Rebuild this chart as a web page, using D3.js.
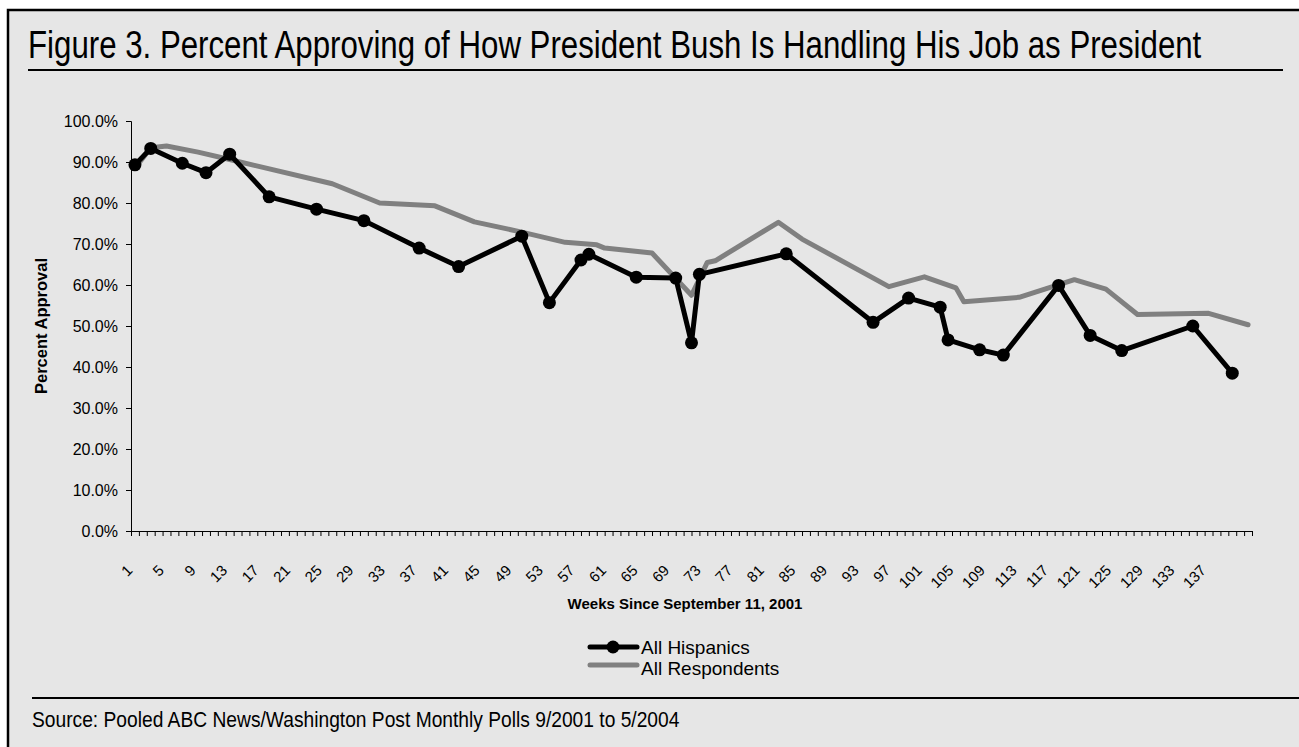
<!DOCTYPE html>
<html>
<head>
<meta charset="utf-8">
<script src="https://cdn.jsdelivr.net/npm/d3@7"></script>
<style>
  html, body { margin: 0; padding: 0; background: #ffffff; }
  svg { display: block; }
  .sans { font-family: "Liberation Sans", Arial, sans-serif; }
</style>
</head>
<body>
<svg id="chart" width="1299" height="747"></svg>
<script>
// ---- Data ----
const titleText = "Figure 3. Percent Approving of How President Bush Is Handling His Job as President";
const sourceText = "Source: Pooled ABC News/Washington Post Monthly Polls 9/2001 to 5/2004";
const xTitle = "Weeks Since September 11, 2001";
const yTitle = "Percent Approval";
const seriesNames = ["All Hispanics", "All Respondents"];

// category tick labels on the x axis
const weekLabels = [1, 5, 9, 13, 17, 21, 25, 29, 33, 37, 41, 45, 49, 53, 57, 61, 65, 69,
  73, 77, 81, 85, 89, 93, 97, 101, 105, 109, 113, 117, 121, 125, 129, 133, 137];
const weekCount = 142;
const yTicks = [0, 10, 20, 30, 40, 50, 60, 70, 80, 90, 100];

// All Hispanics: poll week and percent approving
const hispWeeks = [1, 3, 7, 10, 13, 18, 24, 30, 37, 42, 50, 53.5, 57.5, 58.5, 64.5, 69.5, 71.5, 72.5,
  83.5, 94.5, 99, 103, 104, 108, 111, 118, 122, 126, 135, 140];
const hispValues = [89.3, 93.3, 89.7, 87.4, 91.9, 81.5, 78.5, 75.7, 69.0, 64.5, 71.9, 55.7, 66.1, 67.5,
  61.9, 61.7, 45.9, 62.6, 67.6, 50.9, 56.8, 54.6, 46.6, 44.2, 42.9, 59.9, 47.7, 44.0, 50.0, 38.5];

// All Respondents: week and percent approving
const allWeeks = [1, 3, 5, 9, 13, 26, 32, 39, 44, 50, 55.5, 59.5, 60.5, 66.5, 71.5, 73.5, 74.5,
  82.5, 85.5, 96.5, 101, 105, 106, 113, 120, 124, 128, 137, 142];
const allValues = [88.5, 93.5, 93.9, 92.4, 90.6, 84.7, 80.0, 79.3, 75.4, 72.9, 70.4, 69.8, 69.0, 67.8,
  57.5, 65.5, 65.9, 75.3, 71.2, 59.6, 62.0, 59.3, 55.9, 57.0, 61.3, 59.0, 52.8, 53.1, 50.3];

// ---- Layout ----
const svg = d3.select("#chart");
const plot = { left: 131, right: 1252, top: 121, bottom: 531 };

// panel
svg.append("rect")
  .attr("x", 8).attr("y", 10).attr("width", 1310).attr("height", 760)
  .attr("fill", "#e6e6e6").attr("stroke", "#000").attr("stroke-width", 2.5);

// condensed text helper (the original uses a narrow face)
function condensed(xPos, yPos, size, txt, targetWidth) {
  const t = svg.append("text").attr("class", "sans")
    .attr("font-size", size).attr("fill", "#000").text(txt);
  const natural = t.node().getComputedTextLength();
  const k = targetWidth / natural;
  t.attr("transform", `translate(${xPos},${yPos}) scale(${k},1)`);
  return t;
}

// title
condensed(28, 58, 38, titleText, 1174);
svg.append("line").attr("x1", 28).attr("x2", 1283).attr("y1", 70).attr("y2", 70)
  .attr("stroke", "#000").attr("stroke-width", 2);

// source
svg.append("line").attr("x1", 32).attr("x2", 1299).attr("y1", 698).attr("y2", 698)
  .attr("stroke", "#000").attr("stroke-width", 2);
condensed(32, 727, 22, sourceText, 648);

// scales
const x = d3.scaleLinear().domain([0.5, weekCount + 0.5]).range([plot.left, plot.right]);
const y = d3.scaleLinear().domain([0, 100]).range([plot.bottom, plot.top]);

// y axis
const yAxis = d3.axisLeft(y).tickValues(yTicks).tickSize(5).tickPadding(8)
  .tickFormat(d => d3.format(".1f")(d) + "%");
const gy = svg.append("g").attr("transform", `translate(${plot.left},0)`).call(yAxis);
gy.selectAll("text").attr("class", "sans").attr("font-size", 16).attr("fill", "#000");
gy.selectAll("line, path").attr("stroke", "#000");

// x axis: minor ticks at category boundaries
const boundaries = d3.range(0, weekCount + 1).map(i => i + 0.5);
const xAxis = d3.axisBottom(x).tickValues(boundaries).tickSize(5).tickSizeOuter(0).tickFormat("");
const gx = svg.append("g").attr("transform", `translate(0,${plot.bottom})`).call(xAxis);
gx.selectAll("line, path").attr("stroke", "#000");

// x labels rotated
svg.append("g").selectAll("text").data(weekLabels).join("text")
  .attr("class", "sans")
  .attr("font-size", 15).attr("fill", "#000")
  .attr("text-anchor", "end")
  .attr("transform", d => `translate(${x(d) - 9},${plot.bottom + 33}) rotate(-45)`)
  .attr("dy", "0.7em")
  .text(d => d);

// axis titles
svg.append("text").attr("class", "sans")
  .attr("font-size", 15).attr("font-weight", "bold").attr("text-anchor", "middle")
  .attr("x", 685).attr("y", 609).text(xTitle);
svg.append("text").attr("class", "sans")
  .attr("font-size", 16.5).attr("font-weight", "bold").attr("text-anchor", "middle")
  .attr("transform", "translate(47,326) rotate(-90)").text(yTitle);

// lines
const line = d3.line().x(d => x(d[0])).y(d => y(d[1]));
const allData = allWeeks.map((w, i) => [w, allValues[i]]);
const hispData = hispWeeks.map((w, i) => [w, hispValues[i]]);

svg.append("path").datum(allData).attr("d", line)
  .attr("fill", "none").attr("stroke", "#808080").attr("stroke-width", 5)
  .attr("stroke-linejoin", "round").attr("stroke-linecap", "round");
svg.append("path").datum(hispData).attr("d", line)
  .attr("fill", "none").attr("stroke", "#000").attr("stroke-width", 5)
  .attr("stroke-linejoin", "round").attr("stroke-linecap", "round");
svg.append("g").selectAll("circle").data(hispData).join("circle")
  .attr("cx", d => x(d[0])).attr("cy", d => y(d[1])).attr("r", 6.5).attr("fill", "#000");

// legend
const lg = svg.append("g");
lg.append("line").attr("x1", 590).attr("x2", 637).attr("y1", 647).attr("y2", 647)
  .attr("stroke", "#000").attr("stroke-width", 5).attr("stroke-linecap", "round");
lg.append("circle").attr("cx", 613).attr("cy", 647).attr("r", 6.5).attr("fill", "#000");
lg.append("text").attr("class", "sans").attr("x", 641).attr("y", 654)
  .attr("font-size", 19).attr("fill", "#000").text(seriesNames[0]);
lg.append("line").attr("x1", 590).attr("x2", 637).attr("y1", 665).attr("y2", 665)
  .attr("stroke", "#808080").attr("stroke-width", 5).attr("stroke-linecap", "round");
lg.append("text").attr("class", "sans").attr("x", 641).attr("y", 675)
  .attr("font-size", 19).attr("fill", "#000").text(seriesNames[1]);
</script>
</body>
</html>
